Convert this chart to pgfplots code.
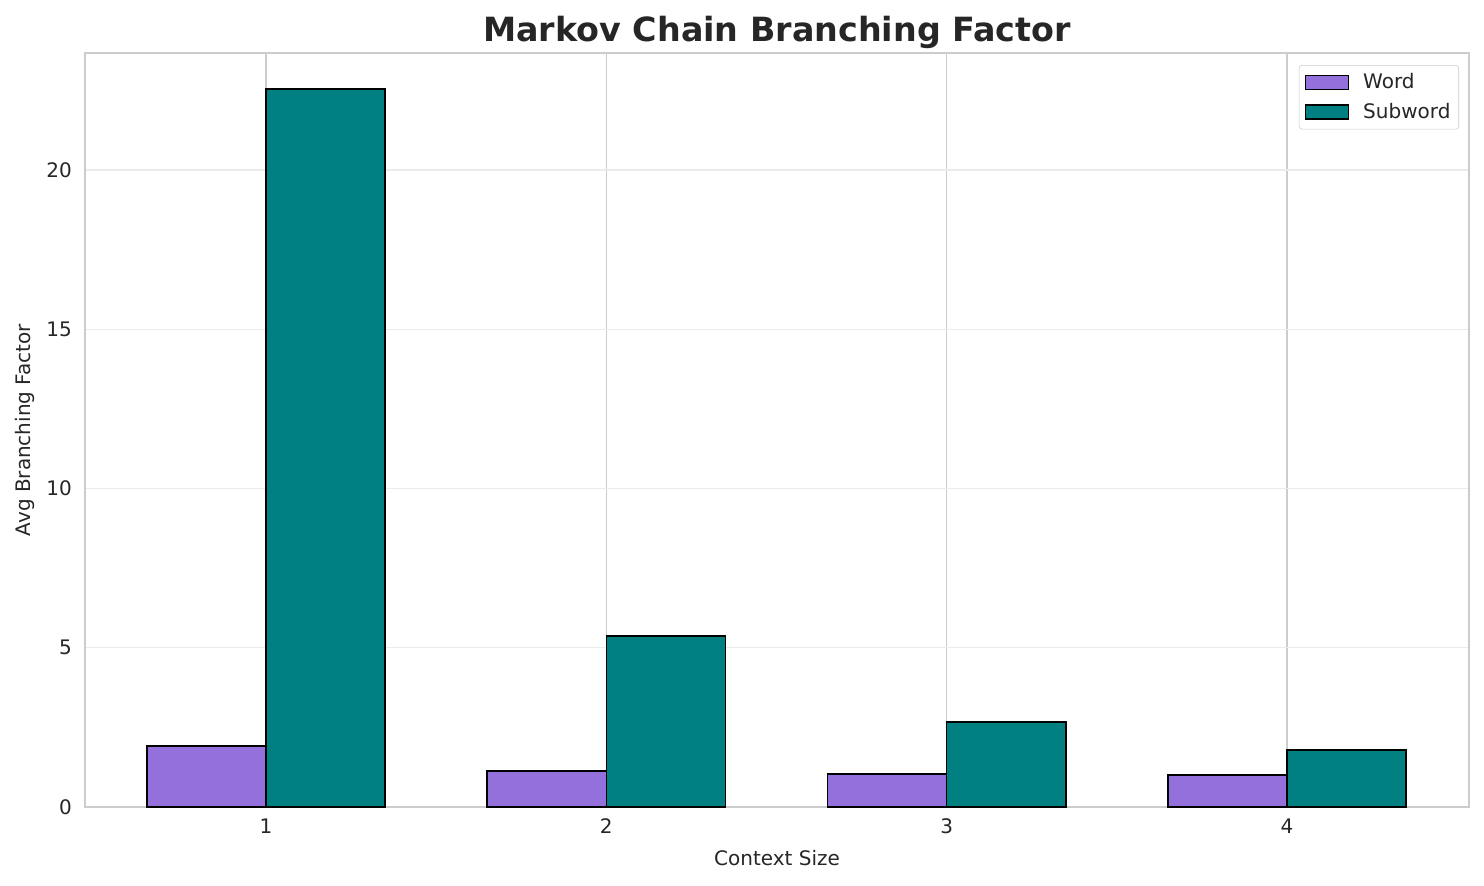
\documentclass[border=0pt]{standalone}
\usepackage{fontspec}
\setmainfont{DejaVu Sans}
\usepackage{pgfplots}
\pgfplotsset{compat=1.18}
\definecolor{wordc}{HTML}{9370DB}
\definecolor{subc}{HTML}{008080}
\definecolor{frame}{HTML}{CCCCCC}
\definecolor{ygrid}{HTML}{EBEBEB}
\definecolor{txt}{HTML}{262626}
\begin{document}
\begin{tikzpicture}
\begin{axis}[
  scale only axis,
  width=996.5pt, height=542.9pt,
  xmin=0.468, xmax=4.535,
  ymin=0, ymax=23.67,
  xtick={1,2,3,4},
  ytick={0,5,10,15,20},
  major tick length=0pt,
  axis line style={frame, line width=1pt},
  x grid style={frame, line width=1pt},
  y grid style={ygrid, line width=1pt},
  xmajorgrids, ymajorgrids,
  ticklabel style={font=\fontsize{14.4}{17}\selectfont, text=txt},
  /pgf/number format/assume math mode=true,
  xticklabel style={yshift=-5pt},
  yticklabel style={xshift=-6pt},
  xlabel={Context Size},
  ylabel={Avg Branching Factor},
  label style={font=\fontsize{14.4}{17}\selectfont, text=txt},
  xlabel style={at={(0.5,0)}, anchor=center, yshift=-37pt},
  ylabel style={at={(0,0.5)}, anchor=center, xshift=0pt, yshift=43.5pt},
  title={Markov Chain Branching Factor},
  title style={font=\fontsize{24}{28}\selectfont\bfseries, text=txt, at={(0.5,1)}, anchor=base, yshift=2.6pt},
  legend style={at={(0.9928,0.984)}, anchor=north east, draw=frame, rounded corners=2pt,
    font=\fontsize{14.4}{17}\selectfont, text=txt, row sep=5pt, column sep=8pt,
    inner xsep=4pt, inner ysep=4pt},
  legend cell align=left,
  legend image code/.code={\draw[#1, sharp corners] (0pt,-5pt) rectangle (31pt,5pt);},
]
\addplot[ybar, bar width=0.35, bar shift=-0.175, fill=wordc, draw=black, line width=1.1pt]
  coordinates {(1,1.92) (2,1.13) (3,1.04) (4,1.00)};
\addplot[ybar, bar width=0.35, bar shift=0.175, fill=subc, draw=black, line width=1.1pt]
  coordinates {(1,22.54) (2,5.37) (3,2.67) (4,1.79)};
\legend{Word, Subword}
\coordinate (sw) at (rel axis cs:0,0);
\coordinate (ne) at (rel axis cs:1,1);
\end{axis}
\pgfresetboundingbox
\path (sw) ++(-61.2pt,-56.2pt) coordinate (a);
\path (ne) ++(10.8pt,38.2pt) coordinate (b);
\path[use as bounding box] (a) rectangle (b);
\end{tikzpicture}
\end{document}
